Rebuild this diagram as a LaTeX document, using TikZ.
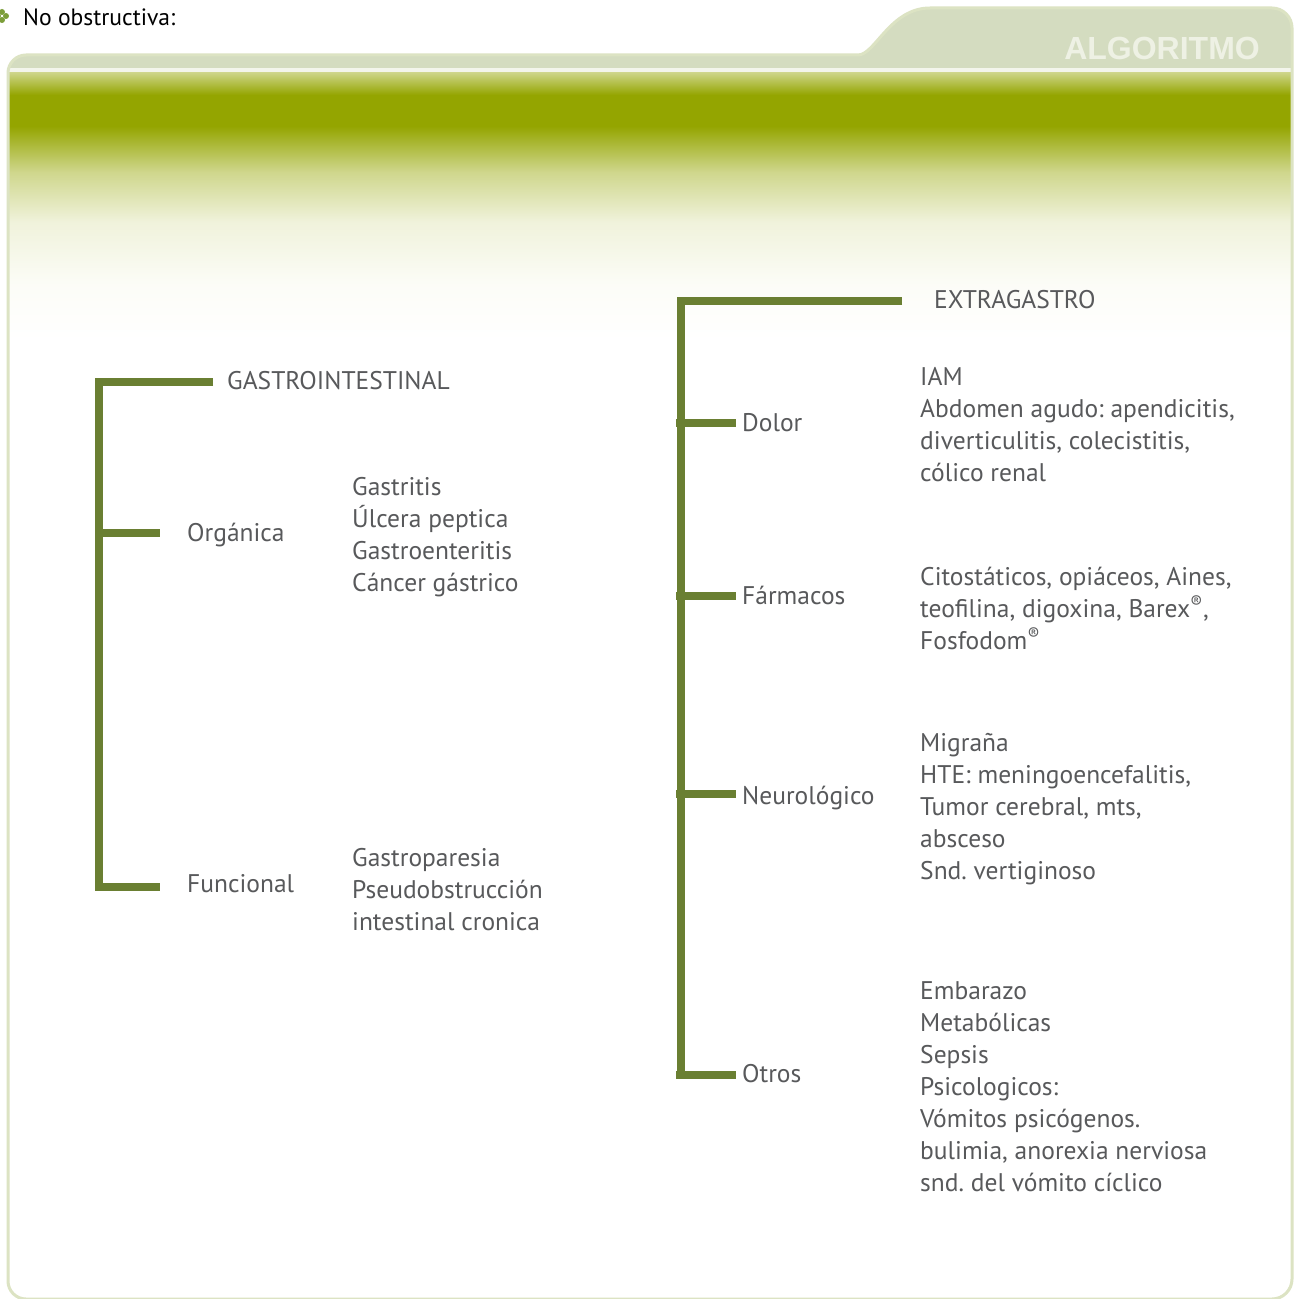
\documentclass[tikz,border=0pt]{standalone}
\usepackage{fontspec}
\setmainfont{PT Sans}
\newfontfamily\headfont{Liberation Sans}
\frenchspacing
\definecolor{tabcol}{HTML}{D4DCC0}
\definecolor{framecol}{HTML}{DCE3C3}
\definecolor{olive}{HTML}{94A500}
\definecolor{barcol}{HTML}{6A7F32}
\definecolor{txtgray}{HTML}{58595B}
\definecolor{algcol}{HTML}{EEF1E4}
\definecolor{leafcol}{HTML}{7C9E3A}
\begin{document}
\begin{tikzpicture}[x=1pt,y=-1pt,
  bar/.style={draw=barcol, line width=8pt},
  lbl/.style={anchor=west, inner sep=0pt, text=txtgray,
    font=\fontsize{25.5}{32}\selectfont,
    execute at begin node=\strut, execute at end node=\strut},
  blk/.style={lbl, align=left}]

% page
\fill[white] (0,0) rectangle (1300,1298);
\useasboundingbox (0,0) rectangle (1300,1298);

% bullet and heading
\foreach \a in {0,90,180,270}
  \fill[leafcol] (2,16) ++(\a:4) circle (3);
\node[anchor=west, inner sep=0pt, font=\fontsize{23.6}{28}\selectfont] (nob) at (23,17) {No obstructiva:};

% folder frame
\def\framepath{(600,1299) [rounded corners=18pt] -- (8,1299) -- (8,55) -- (840,55) [sharp corners]
  .. controls (875,55) and (890,8) .. (930,8) [rounded corners=20pt] -- (1292,8) -- (1292,1299) -- cycle}
\fill[white] \framepath;
\begin{scope}
  \clip \framepath;
  \fill[tabcol] (0,0) rectangle (1300,68);
  \fill[algcol!70!white] (0,68) rectangle (1300,72);
  \shade[top color=olive!45!white, bottom color=olive] (0,72) rectangle (1300,95);
  \fill[olive] (0,95) rectangle (1300,126);
  \shade[top color=olive, bottom color=olive!45!white] (0,126) rectangle (1300,172);
  \shade[top color=olive!45!white, bottom color=olive!14!white] (0,172) rectangle (1300,222);
  \shade[top color=olive!14!white, bottom color=olive!3!white] (0,222) rectangle (1300,285);
  \shade[top color=olive!3!white, bottom color=white] (0,285) rectangle (1300,340);
\end{scope}
\draw[framecol, line width=3pt] \framepath;
\node[anchor=east, inner sep=0pt, text=algcol, font=\headfont\bfseries\fontsize{32}{36}\selectfont] (alg) at (1260,48) {ALGORITMO};

% left tree
\node[lbl] (gi) at (227,383) {GASTROINTESTINAL};
\node[lbl] (org) at (187,535) {Orgánica};
\node[blk] (orgL) at (352,539) {Gastritis\\Úlcera peptica\\Gastroenteritis\\Cáncer gástrico};
\node[lbl] (fun) at (187,886) {Funcional};
\node[blk] (funL) at (352,894) {Gastroparesia\\Pseudobstrucción\\intestinal cronica};

\coordinate (gitop) at (99,382);
\coordinate (giend) at (213,382);
\coordinate (orgend) at (160,533);
\coordinate (funend) at (160,887);
\draw[bar] (giend) -- (gitop) -- (gitop |- funend) -- (funend);
\draw[bar] (gitop |- orgend) -- (orgend);

% right tree
\node[lbl] (ext) at (934,302) {EXTRAGASTRO};
\node[lbl] (dol) at (742,425) {Dolor};
\node[blk] (dolL) at (920,429) {IAM\\Abdomen agudo: apendicitis,\\diverticulitis, colecistitis,\\cólico renal};
\node[lbl] (far) at (742,598) {Fármacos};
\node[blk] (farL) at (920,613) {Citostáticos, opiáceos, Aines,\\teofilina, digoxina, Barex\textsuperscript{®},\\Fosfodom\textsuperscript{®}};
\node[lbl] (neu) at (742,798) {Neurológico};
\node[blk] (neuL) at (920,811) {Migraña\\HTE: meningoencefalitis,\\Tumor cerebral, mts,\\absceso\\Snd. vertiginoso};
\node[lbl] (otr) at (742,1076) {Otros};
\node[blk] (otrL) at (920,1091) {Embarazo\\Metabólicas\\Sepsis\\Psicologicos:\\Vómitos psicógenos.\\bulimia, anorexia nerviosa\\snd. del vómito cíclico};

\coordinate (extop) at (681,301);
\coordinate (extend) at (902,301);
\coordinate (otrend) at (736,1075);
\draw[bar] (extend) -- (extop) -- (extop |- otrend);
\foreach \n/\y in {dol/423, far/596, neu/794, otr/1075}
  \draw[bar, shorten >=6pt] (676,\y) -- (\n.west |- 0,\y);
\end{tikzpicture}
\end{document}
